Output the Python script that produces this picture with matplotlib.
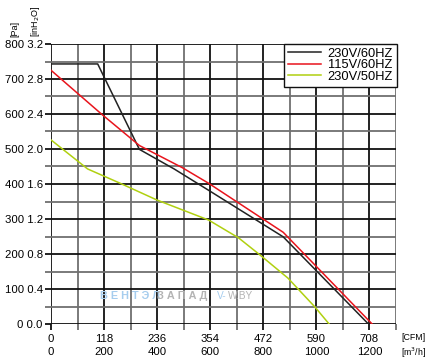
import matplotlib.pyplot as plt
from matplotlib.ticker import MultipleLocator, FixedLocator

plt.rcParams['font.family'] = ['Liberation Sans', 'DejaVu Sans']

# fan curves, flow in m3/h, pressure in Pa
flow_60 = [0, 176, 333, 464, 594, 875, 1196]
pa_60 = [743, 743, 499, 443, 382, 249, 0]
flow_115 = [0, 190, 333, 494, 594, 875, 1210]
pa_115 = [725, 600, 510, 447, 402, 262, 0]
flow_50 = [0, 138, 258, 400, 594, 707, 788, 893, 994, 1048]
pa_50 = [526, 443, 403, 354, 297, 246, 197, 131, 49, 0]

labels = ['230V/60HZ', '115V/60HZ', '230V/50HZ']
colors = ['#222222', '#e8141c', '#b0d010']

pa_ticks = [0, 100, 200, 300, 400, 500, 600, 700, 800]
inh2o_ticks = ['0.0', '0.4', '0.8', '1.2', '1.6', '2.0', '2.4', '2.8', '3.2']
m3h_ticks = [0, 200, 400, 600, 800, 1000, 1200]
cfm_ticks = ['0', '118', '236', '354', '472', '590', '708']

fig = plt.figure(figsize=(4.33, 3.59), dpi=100)
ax = fig.add_axes([51/433, 1-324/359, 345/433, 280/359])

ax.set_xlim(0, 1300)
ax.set_ylim(0, 800)

ax.xaxis.set_major_locator(FixedLocator(m3h_ticks))
ax.xaxis.set_minor_locator(MultipleLocator(200, offset=100))
ax.yaxis.set_major_locator(FixedLocator(pa_ticks))
ax.yaxis.set_minor_locator(MultipleLocator(100, offset=50))

ax.grid(which='major', color='#111111', lw=1.3)
ax.grid(which='minor', color='#707070', lw=1.3)
ax.set_axisbelow(True)
for s in ax.spines.values():
    s.set_visible(False)

ax.tick_params(which='major', length=4, width=1.3, color='#111111', pad=2, labelsize=8.2)
ax.tick_params(which='minor', length=4, width=1.3, color='#707070')
ax.tick_params(axis='x', pad=3)

ax.set_yticklabels([f'{p} {h}' for p, h in zip(pa_ticks, inh2o_ticks)])
ax.set_xticklabels([f'{c}\n{m}' for c, m in zip(cfm_ticks, m3h_ticks)], linespacing=1.4)

ax.plot(flow_60, pa_60, color=colors[0], lw=1.1, label=labels[0])
ax.plot(flow_115, pa_115, color=colors[1], lw=1.1, label=labels[1])
ax.plot(flow_50, pa_50, color=colors[2], lw=1.1, label=labels[2])

leg = ax.legend(loc='upper right', bbox_to_anchor=(1.003, 1.0), borderaxespad=0,
                fontsize=9.3, handlelength=2.6, handletextpad=0.5, labelspacing=-0.05,
                borderpad=0.3, fancybox=False, framealpha=1)
leg.get_frame().set_edgecolor('#111111')
leg.get_frame().set_linewidth(1.0)

# unit labels
fig.text(15/433, 1-37/359, '[Pa]', rotation=90, ha='center', va='bottom', fontsize=6.5)
fig.text(36/433, 1-37/359, '[inH$_2$O]', rotation=90, ha='center', va='bottom', fontsize=6.5)
fig.text(401/433, 1-338/359, '[CFM]', ha='left', va='center', fontsize=6.3)
fig.text(401/433, 1-353/359, '[m$^3$/h]', ha='left', va='center', fontsize=6.3)

# watermark
fig.text(100/433, 1-296/359, 'В Е Н Т Э Л', ha='left', va='center', fontsize=7.8,
         fontweight='bold', color='#a6cdee')
fig.text(157/433, 1-296/359, 'З А П А Д', ha='left', va='center', fontsize=7.8,
         fontweight='bold', color='#b4b4b4')
fig.text(217/433, 1-296/359, 'V-', ha='left', va='center', fontsize=7.3, color='#a6cdee')
fig.text(228/433, 1-296/359, 'W.BY', ha='left', va='center', fontsize=7.3, color='#b4b4b4')

fig.savefig('out.png', dpi=100)
